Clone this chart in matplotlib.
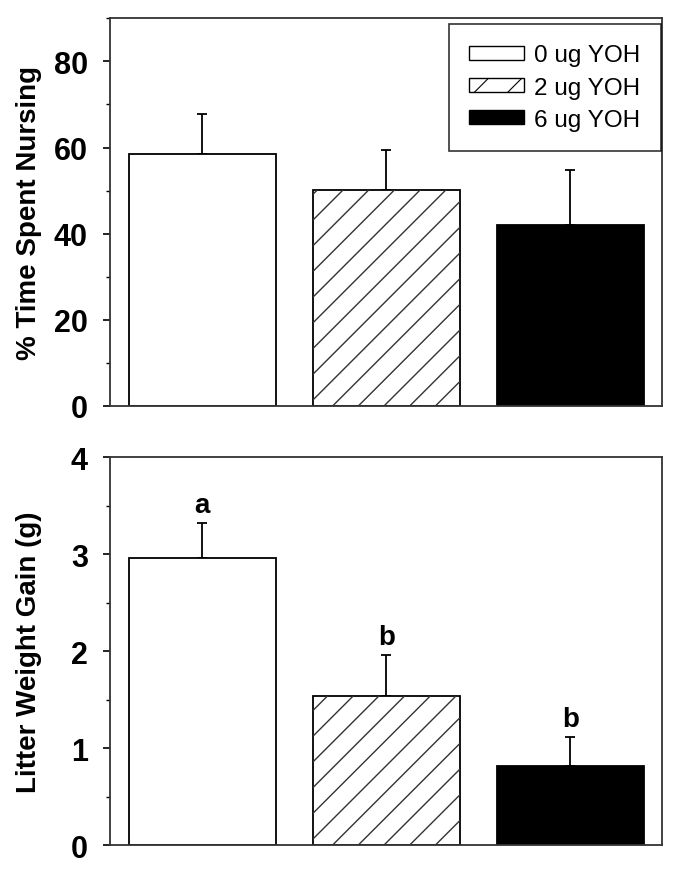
import numpy as np
import matplotlib
matplotlib.use('Agg')
import matplotlib.pyplot as plt
from matplotlib.patches import Patch
from matplotlib.ticker import MultipleLocator

plt.rcParams['font.family'] = ['Liberation Sans', 'DejaVu Sans']

grupos = ['0 ug YOH', '2 ug YOH', '6 ug YOH']
nursing = [58.5, 50.2, 42.1]
nursing_err = [9.3, 9.3, 12.6]
ganho = [2.96, 1.54, 0.82]
ganho_err = [0.36, 0.42, 0.29]
letras = ['a', 'b', 'b']

cores = ['white', 'white', 'black']
hachura = [False, True, False]
x = np.arange(len(grupos))


def hachura_manual(ax, barra, passo=25.7):
    # linhas a 45 graus em pixels, cortadas pelo retangulo da barra
    ext = barra.get_window_extent()
    x0, y0, x1, y1 = ext.x0, ext.y0, ext.x1, ext.y1
    h = y1 - y0
    inv = ax.transData.inverted()
    k = np.arange(-np.ceil(h / passo) - 1, np.ceil((x1 - x0) / passo) + 1)
    for kk in k:
        xs = x0 + 20 + kk * passo
        p = inv.transform([[xs, y0], [xs + h, y0 + h]])
        ln, = ax.plot(p[:, 0], p[:, 1], color='#333333', lw=1.0, zorder=2.5)
        ln.set_clip_path(barra)


def faz_painel(ax, valores, erros, ylim, major, minor, ylabel):
    ax.set_xlim(-0.5, 2.5)
    ax.set_ylim(0, ylim)
    barras = ax.bar(x, valores, width=0.8, color=cores, edgecolor='black',
                    linewidth=1.3, zorder=2)
    ax.errorbar(x, valores, yerr=[np.zeros(3), erros], fmt='none',
                ecolor='black', elinewidth=1.3, capsize=3.6, capthick=1.3,
                zorder=1)
    for b, hh in zip(barras, hachura):
        if hh:
            hachura_manual(ax, b)
    ax.set_xticks([])
    ax.yaxis.set_major_locator(MultipleLocator(major))
    ax.yaxis.set_minor_locator(MultipleLocator(minor))
    ax.tick_params(axis='y', which='major', length=5, width=1.2,
                   direction='out', pad=11, labelsize=22)
    ax.tick_params(axis='y', which='minor', length=3, width=1.0,
                   direction='out')
    for lab in ax.get_yticklabels():
        lab.set_fontweight('bold')
    for s in ax.spines.values():
        s.set_linewidth(1.3)
        s.set_color('#333333')
    ax.set_ylabel(ylabel, fontsize=20, fontweight='bold')
    ax.yaxis.set_label_coords(-0.123, 0.5)
    return barras


fig = plt.figure(figsize=(6.8, 8.79), dpi=100)
ax1 = fig.add_axes([0.162, 0.537, 0.812, 0.441])
ax2 = fig.add_axes([0.162, 0.0375, 0.812, 0.441])

faz_painel(ax1, nursing, nursing_err, 90, 20, 10, '% Time Spent Nursing')
faz_painel(ax2, ganho, ganho_err, 4, 1, 0.5, 'Litter Weight Gain (g)')

for xi, v, e, l in zip(x, ganho, ganho_err, letras):
    ax2.annotate(l, (xi, v + e), xytext=(0, 4), textcoords='offset points',
                 ha='center', va='bottom', fontsize=20, fontweight='bold')

handles = [Patch(facecolor='white', edgecolor='black', lw=1.0),
           Patch(facecolor='white', edgecolor='black', lw=1.0, hatch='/'),
           Patch(facecolor='black', edgecolor='black', lw=1.0)]
plt.rcParams['hatch.linewidth'] = 0.8
leg = ax1.legend(handles, grupos, loc='upper right',
                 bbox_to_anchor=(0.997, 0.985), fontsize=17.5, frameon=True,
                 fancybox=False, edgecolor='black', handlelength=2.25,
                 handleheight=0.5, handletextpad=0.42, labelspacing=0.42,
                 borderpad=0.83, borderaxespad=0)
leg.get_frame().set_linewidth(1.2)

fig.savefig('out.png', dpi=100)
